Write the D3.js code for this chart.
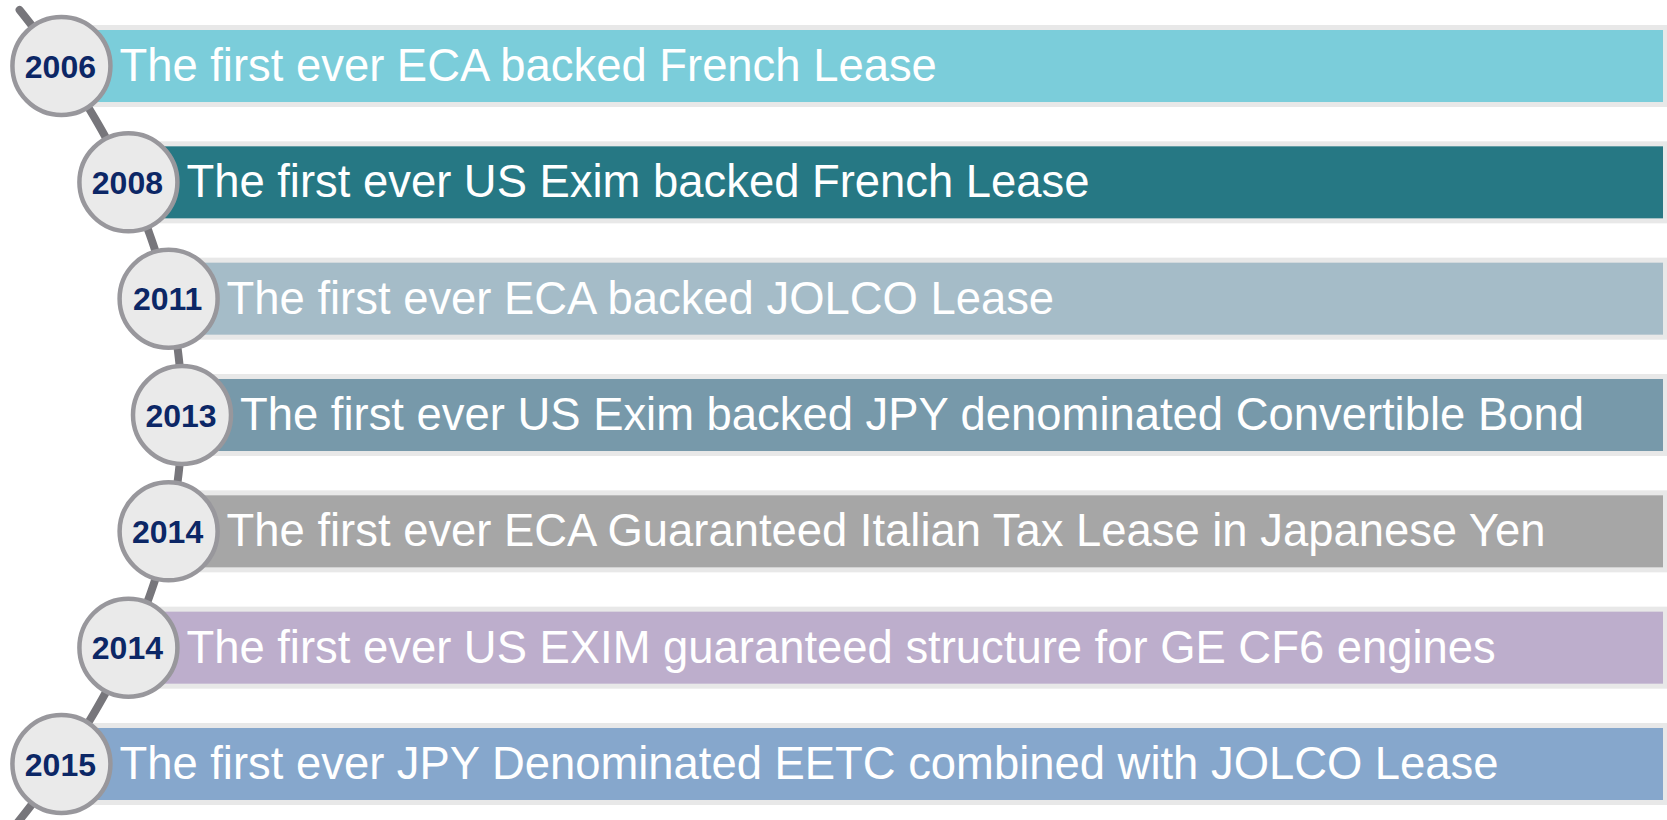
<!DOCTYPE html>
<html>
<head>
<meta charset="utf-8">
<script src="https://cdn.jsdelivr.net/npm/d3@7"></script>
<style>
  body { margin: 0; background: #fff; }
  svg { display: block; }
</style>
</head>
<body>
<div id="chart-area"></div>
<script>
// milestones, top to bottom
const years = ["2006", "2008", "2011", "2013", "2014", "2014", "2015"];
const labels = [
    "The first ever ECA backed French Lease",
    "The first ever US Exim backed French Lease",
    "The first ever ECA backed JOLCO Lease",
    "The first ever US Exim backed JPY denominated Convertible Bond",
    "The first ever ECA Guaranteed Italian Tax Lease in Japanese Yen",
    "The first ever US EXIM guaranteed structure for GE CF6 engines",
    "The first ever JPY Denominated EETC combined with JOLCO Lease"
];
const colors = ["#7bcdda", "#267884", "#a5bcc8", "#7799aa", "#a6a6a6", "#bdaecc", "#86a7cc"];

const width = 1667, height = 820;
const rows = d3.range(years.length);

const svg = d3.select("#chart-area").append("svg")
    .attr("width", width)
    .attr("height", height);

// rows
const y = d3.scaleBand()
    .domain(rows)
    .range([25, 805])
    .paddingInner(0.295)
    .paddingOuter(0);

const midY = y(3) + y.bandwidth() / 2;
// spine bulges to the right, vertex at the middle row
const spineX = yy => 182 - 0.00099 * (yy - midY) * (yy - midY);
const cy = i => y(i) + y.bandwidth() / 2;
const cx = i => spineX(cy(i));

const r = 49;

// the spine line
const spine = d3.line()
    .x(d => spineX(d))
    .y(d => d);

svg.append("path")
    .attr("d", spine(d3.range(10, 836, 4)))
    .attr("fill", "none")
    .attr("stroke", "#77767b")
    .attr("stroke-width", 8)
    .attr("stroke-linecap", "round");

const rowsG = svg.selectAll("g.row")
    .data(rows)
    .enter().append("g")
    .attr("class", "row");

// grey backdrop
rowsG.append("rect")
    .attr("x", i => cx(i) + 31)
    .attr("y", i => y(i))
    .attr("width", i => width - cx(i) - 31)
    .attr("height", y.bandwidth())
    .attr("fill", "#e8e8e8");

// coloured bar
rowsG.append("rect")
    .attr("x", i => cx(i) + 36)
    .attr("y", i => y(i) + 5)
    .attr("width", i => width - 4 - cx(i) - 36)
    .attr("height", y.bandwidth() - 10)
    .attr("fill", i => colors[i]);

rowsG.append("text")
    .attr("x", i => cx(i) + 58)
    .attr("y", i => cy(i))
    .attr("dy", "0.33em")
    .attr("fill", "#fff")
    .style("font-family", "Arial, 'Liberation Sans', sans-serif")
    .style("font-size", "45.4px")
    .text(i => labels[i]);

// year circles
rowsG.append("circle")
    .attr("cx", i => cx(i))
    .attr("cy", i => cy(i))
    .attr("r", r)
    .attr("fill", "#eaeaea")
    .attr("stroke", "#98979c")
    .attr("stroke-width", 4.5);

rowsG.append("text")
    .attr("x", i => cx(i) - 1)
    .attr("y", i => cy(i))
    .attr("dy", "0.36em")
    .attr("text-anchor", "middle")
    .attr("fill", "#0c2766")
    .style("font-family", "Arial, 'Liberation Sans', sans-serif")
    .style("font-size", "32px")
    .style("font-weight", "bold")
    .text(i => years[i]);
</script>
</body>
</html>
